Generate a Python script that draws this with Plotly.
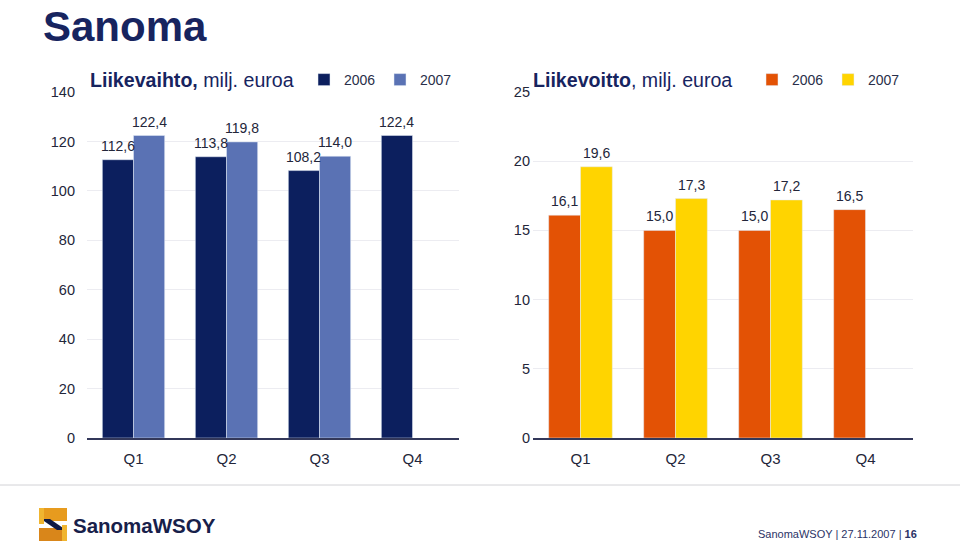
import plotly.graph_objects as go

# ---------------- data ----------------
quarters = ["Q1", "Q2", "Q3", "Q4"]
revenue_2006 = [112.6, 113.8, 108.2, 122.4]
revenue_2007 = [122.4, 119.8, 114.0, None]
profit_2006 = [16.1, 15.0, 15.0, 16.5]
profit_2007 = [19.6, 17.3, 17.2, None]
revenue_ticks = [0, 20, 40, 60, 80, 100, 120, 140]
profit_ticks = [0, 5, 10, 15, 20, 25]
series_names = ["2006", "2007"]

# ---------------- styling ----------------
FONT = "Liberation Sans, Arial, sans-serif"
NAVY = "#0c1f5e"
MIDBLUE = "#5a72b4"
ORANGE = "#e35205"
YELLOW = "#ffd400"
TITLE_COL = "#17245f"
TEXT_COL = "#23263a"
GRID = "#ececf1"
BARGAP = 0.33

W, H = 960, 549
ML, MR, MT, MB = 87, 47, 92, 111
PW, PH = W - ML - MR, H - MT - MB
LEFT_X1, RIGHT_X0 = 459, 533


def px2x(px):
    return (px - ML) / PW


def px2y(py):
    return (H - MB - py) / PH


fig = go.Figure()

fig.add_trace(go.Bar(x=quarters, y=revenue_2006, name=series_names[0], marker_color=NAVY,
                     xaxis="x", yaxis="y", legend="legend"))
fig.add_trace(go.Bar(x=quarters, y=revenue_2007, name=series_names[1], marker_color=MIDBLUE,
                     xaxis="x", yaxis="y", legend="legend"))
fig.add_trace(go.Bar(x=quarters, y=profit_2006, name=series_names[0], marker_color=ORANGE,
                     xaxis="x2", yaxis="y2", legend="legend2"))
fig.add_trace(go.Bar(x=quarters, y=profit_2007, name=series_names[1], marker_color=YELLOW,
                     xaxis="x2", yaxis="y2", legend="legend2"))

xcommon = dict(showgrid=False, showline=True, linecolor="#33385a", linewidth=1.5,
               ticks="", tickfont=dict(family=FONT, size=15, color=TEXT_COL),
               ticklabelstandoff=6, fixedrange=True)
ycommon = dict(showgrid=True, gridcolor=GRID, gridwidth=1, zeroline=False, showline=False,
               ticks="", tickfont=dict(family=FONT, size=14.5, color=TEXT_COL), fixedrange=True)

legend_common = dict(orientation="h", font=dict(family=FONT, size=14, color="#2a2f4a"),
                     bgcolor="rgba(0,0,0,0)", yanchor="middle", xanchor="left",
                     entrywidthmode="pixels", entrywidth=31, traceorder="normal")

fig.update_layout(
    width=W, height=H,
    margin=dict(l=ML, r=MR, t=MT, b=MB, pad=0),
    paper_bgcolor="white", plot_bgcolor="white",
    separators=", ",
    barmode="group", bargap=BARGAP, bargroupgap=0,
    font=dict(family=FONT, color=TEXT_COL),
    xaxis=dict(domain=[0, px2x(LEFT_X1)], anchor="y", **xcommon),
    yaxis=dict(domain=[0, 1], anchor="x", range=[0, 140], tickvals=revenue_ticks,
               ticklabelstandoff=11, **ycommon),
    xaxis2=dict(domain=[px2x(RIGHT_X0), 1], anchor="y2", **xcommon),
    yaxis2=dict(domain=[0, 1], anchor="x2", range=[0, 25], tickvals=profit_ticks,
                ticklabelstandoff=2, **ycommon),
    legend=dict(x=px2x(304), y=px2y(80), **legend_common),
    legend2=dict(x=px2x(752), y=px2y(80), **legend_common),
    showlegend=True,
)

annotations = [
    dict(text="<b>Sanoma</b>", x=px2x(41), y=px2y(1), xanchor="left", yanchor="top",
         font=dict(family=FONT, size=42, color=TITLE_COL)),
    dict(text="<b>Liikevaihto,</b> milj. euroa", x=px2x(88), y=px2y(80), xanchor="left",
         yanchor="middle", font=dict(family=FONT, size=19.6, color=TITLE_COL)),
    dict(text="<b>Liikevoitto</b>, milj. euroa", x=px2x(531), y=px2y(80), xanchor="left",
         yanchor="middle", font=dict(family=FONT, size=19.6, color=TITLE_COL)),
    dict(text="<b>SanomaWSOY</b>", x=px2x(71), y=px2y(525), xanchor="left", yanchor="middle",
         font=dict(family=FONT, size=20.5, color="#17204a")),
    dict(text="SanomaWSOY | 27.11.2007 | <b>16</b>", x=px2x(919), y=px2y(534),
         xanchor="right", yanchor="middle", font=dict(family=FONT, size=11, color="#2b3366")),
]
for a in annotations:
    a.update(xref="paper", yref="paper", showarrow=False)

# value labels, placed through the axes from the data
label_font = dict(family=FONT, size=14, color=TEXT_COL)


def add_value_labels(values, xref, yref, side, plot_px_width):
    bar_px = plot_px_width / len(quarters) * (1 - BARGAP) / 2
    for q, v in zip(quarters, values):
        if v is None:
            continue
        annotations.append(dict(
            text=f"{v:.1f}".replace(".", ","), x=q, y=v, xref=xref, yref=yref,
            xshift=side * bar_px / 2, yshift=4, yanchor="bottom", xanchor="center",
            showarrow=False, font=label_font))


add_value_labels(revenue_2006, "x", "y", -1, LEFT_X1 - ML)
add_value_labels(revenue_2007, "x", "y", 1, LEFT_X1 - ML)
add_value_labels(profit_2006, "x2", "y2", -1, W - MR - RIGHT_X0)
add_value_labels(profit_2007, "x2", "y2", 1, W - MR - RIGHT_X0)

fig.update_layout(annotations=annotations)

shapes = [
    # footer separator
    dict(type="line", x0=px2x(0), x1=px2x(960), y0=px2y(485), y1=px2y(485),
         line=dict(color="#d2d2d6", width=1)),
    # logo icon (stylised ribbon S)
    dict(type="rect", x0=px2x(39), x1=px2x(67), y0=px2y(508), y1=px2y(521),
         fillcolor="#e79b1e", line=dict(width=0)),
    dict(type="rect", x0=px2x(39), x1=px2x(67), y0=px2y(528), y1=px2y(541),
         fillcolor="#d9861a", line=dict(width=0)),
    dict(type="path",
         path="M {} {} L {} {} L {} {} L {} {} Z".format(
             px2x(41), px2y(519), px2x(50), px2y(519), px2x(66), px2y(530), px2x(57), px2y(530)),
         fillcolor="#101a44", line=dict(width=0)),
    dict(type="rect", x0=px2x(39), x1=px2x(44), y0=px2y(508), y1=px2y(524),
         fillcolor="#f0b530", line=dict(width=0)),
    dict(type="rect", x0=px2x(62), x1=px2x(67), y0=px2y(525), y1=px2y(541),
         fillcolor="#f0b530", line=dict(width=0)),
]
for s in shapes:
    s.update(xref="paper", yref="paper", layer="above")
fig.update_layout(shapes=shapes)

fig.write_html("out.html", config={"displayModeBar": False},
               post_script="document.body.style.margin='0px';")
